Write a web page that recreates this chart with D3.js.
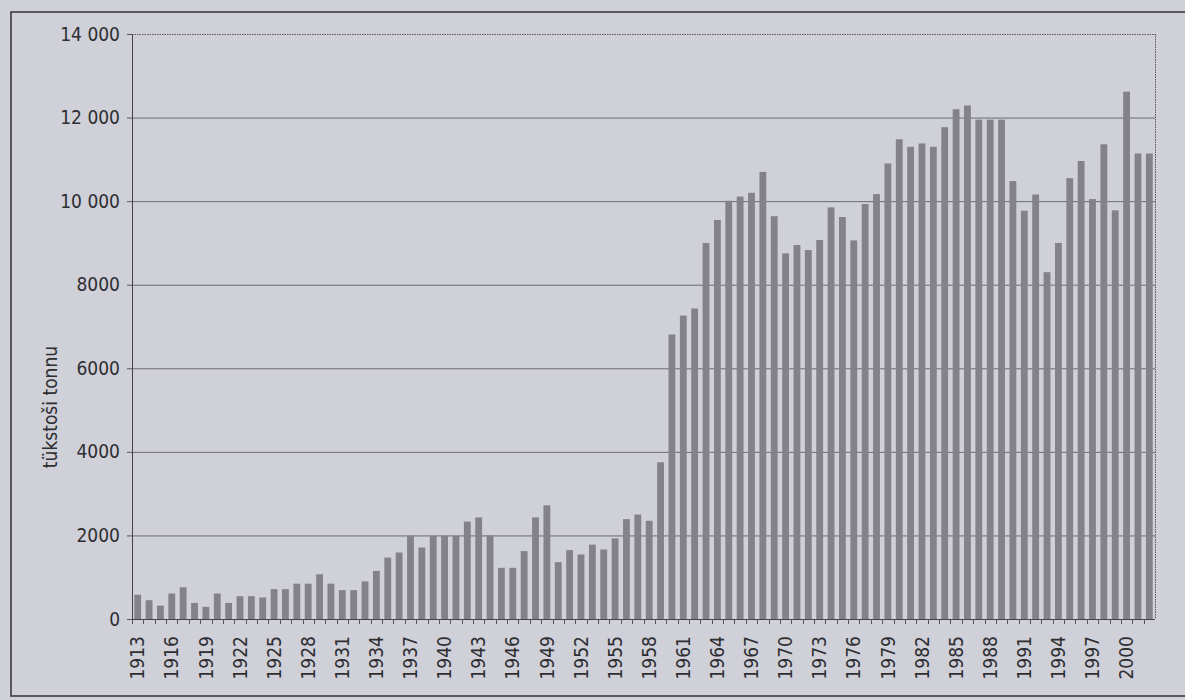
<!DOCTYPE html>
<html>
<head>
<meta charset="utf-8">
<script src="https://cdn.jsdelivr.net/npm/d3@7"></script>
<style>
  html, body { margin: 0; padding: 0; background: #cfd0d8; }
  #wrapper { width: 1185px; height: 700px; }
  text { font-family: "Liberation Sans Narrow", "DejaVu Sans Condensed", "Liberation Sans", sans-serif; fill: #2e2e32; }
</style>
</head>
<body>
<div id="wrapper"></div>
<script>
// data (thousand tonnes per year)
const years = d3.range(1913, 2003)
const values = [
  580, 450, 320, 610, 760, 385, 290, 610, 385, 545,      // 1913-1922
  545, 515, 715, 715, 845, 845, 1070, 845, 690, 690,     // 1923-1932
  900, 1150, 1470, 1590, 1990, 1710, 1990, 1990, 1990, 2330, // 1933-1942
  2430, 2000, 1225, 1225, 1625, 2430, 2720, 1360, 1650, 1545, // 1943-1952
  1780, 1665, 1930, 2390, 2500, 2350, 3750, 6810, 7260, 7430, // 1953-1962
  9000, 9550, 10010, 10110, 10200, 10700, 9640, 8750, 8950, 8830, // 1963-1972
  9070, 9850, 9620, 9060, 9930, 10170, 10900, 11480, 11300, 11380, // 1973-1982
  11300, 11770, 12200, 12290, 11950, 11950, 11950, 10480, 9770, 10160, // 1983-1992
  8300, 9000, 10550, 10960, 10050, 11360, 9780, 12620, 11140, 11140, // 1993-2002
]
const xTickYears = [1913, 1916, 1919, 1922, 1925, 1928, 1931, 1934, 1937, 1940,
  1943, 1946, 1949, 1952, 1955, 1958, 1961, 1964, 1967, 1970,
  1973, 1976, 1979, 1982, 1985, 1988, 1991, 1994, 1997, 2000]
const yTicks = [0, 2000, 4000, 6000, 8000, 10000, 12000, 14000]
const yLabel = "tükstoši tonnu"

function drawChart() {
  const dataset = years.map((year, i) => ({year, value: values[i]}))
  const xAccessor = d => d.year
  const yAccessor = d => d.value

  let dimensions = {
    width: 1185,
    height: 700,
    margin: {
      top: 34,
      right: 30,
      bottom: 81,
      left: 132,
    },
  }
  dimensions.boundedWidth = dimensions.width - dimensions.margin.left - dimensions.margin.right
  dimensions.boundedHeight = dimensions.height - dimensions.margin.top - dimensions.margin.bottom

  const wrapper = d3.select("#wrapper")
    .append("svg")
      .attr("width", dimensions.width)
      .attr("height", dimensions.height)

  // page frame
  wrapper.append("rect")
      .attr("x", 11)
      .attr("y", 12)
      .attr("width", 1200)
      .attr("height", 684)
      .attr("fill", "none")
      .attr("stroke", "#3a3a3e")
      .attr("stroke-width", 1.6)

  const bounds = wrapper.append("g")
      .style("transform", `translate(${dimensions.margin.left}px, ${dimensions.margin.top}px)`)

  // scales
  const xScale = d3.scaleBand()
    .domain(years)
    .range([0, dimensions.boundedWidth])
    .paddingInner(0.4)
    .paddingOuter(0.2)

  const yScale = d3.scaleLinear()
    .domain([0, 14000])
    .range([dimensions.boundedHeight, 0])

  // gridlines
  bounds.append("g")
    .selectAll("line")
    .data(yTicks.filter(d => d > 0))
    .join("line")
      .attr("x1", 0)
      .attr("x2", dimensions.boundedWidth)
      .attr("y1", d => yScale(d) + 0.5)
      .attr("y2", d => yScale(d) + 0.5)
      .attr("stroke", d => d == 14000 ? "#555" : "#6a6a70")
      .attr("stroke-width", 1)
      .attr("stroke-dasharray", d => d == 14000 ? "1.5,1" : null)

  // right edge, dotted
  bounds.append("line")
      .attr("x1", dimensions.boundedWidth + 0.5)
      .attr("x2", dimensions.boundedWidth + 0.5)
      .attr("y1", 0)
      .attr("y2", dimensions.boundedHeight)
      .attr("stroke", "#555")
      .attr("stroke-dasharray", "1.5,1")

  // bars
  bounds.append("g")
    .selectAll("rect")
    .data(dataset)
    .join("rect")
      .attr("x", d => xScale(xAccessor(d)))
      .attr("y", d => yScale(yAccessor(d)))
      .attr("width", xScale.bandwidth())
      .attr("height", d => dimensions.boundedHeight - yScale(yAccessor(d)))
      .attr("fill", "#828288")

  // x axis: ticks on band edges, labels every third year
  const xAxis = bounds.append("g")
      .style("transform", `translateY(${dimensions.boundedHeight}px)`)

  xAxis.append("line")
      .attr("x1", 0)
      .attr("x2", dimensions.boundedWidth)
      .attr("y1", 0.5)
      .attr("y2", 0.5)
      .attr("stroke", "#444")

  xAxis.selectAll(".tick-mark")
    .data(years)
    .join("line")
      .attr("class", "tick-mark")
      .attr("x1", d => Math.round(xScale(d) - xScale.step() * xScale.paddingInner() / 2) + 0.5)
      .attr("x2", d => Math.round(xScale(d) - xScale.step() * xScale.paddingInner() / 2) + 0.5)
      .attr("y1", 0)
      .attr("y2", 5)
      .attr("stroke", "#555")

  xAxis.selectAll(".x-label")
    .data(xTickYears)
    .join("text")
      .attr("class", "x-label")
      .attr("transform", d => `translate(${xScale(d) + xScale.bandwidth() / 2}, 17) rotate(-90)`)
      .attr("text-anchor", "end")
      .attr("dy", "0.35em")
      .style("font-size", "19px")
      .text(d => d)

  // y axis
  const yAxisGenerator = d3.axisLeft()
    .scale(yScale)
    .tickValues(yTicks)
    .tickSize(5)
    .tickPadding(7)
    .tickFormat(d => d >= 10000 ? d3.format(",")(d).replace(",", " ") : d)

  const yAxis = bounds.append("g")
      .call(yAxisGenerator)

  yAxis.select(".domain")
      .attr("stroke", "#444")
  yAxis.selectAll(".tick line")
      .attr("stroke", "#555")
  yAxis.selectAll(".tick text")
      .style("font-size", "19px")
      .attr("fill", "#2e2e32")
      .style("font-family", null)

  wrapper.append("text")
      .attr("transform", `translate(57, 407) rotate(-90)`)
      .attr("text-anchor", "middle")
      .style("font-size", "19px")
      .text(yLabel)
}
drawChart()
</script>
</body>
</html>
